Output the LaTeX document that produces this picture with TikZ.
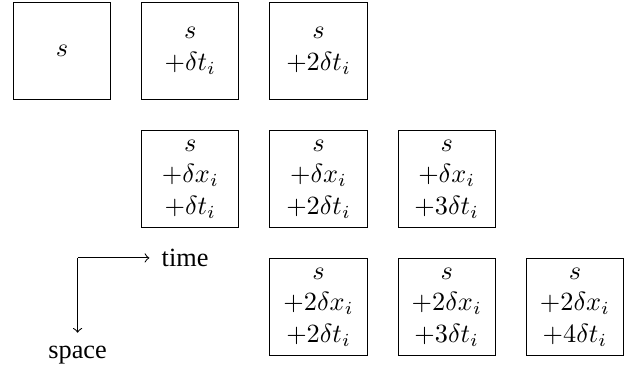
\documentclass[tikz,border=0pt]{standalone}
\usepackage[no-math]{fontspec}
\setmainfont{Liberation Serif}
\usepackage{tikz}
\usetikzlibrary{positioning}

\begin{document}
\begin{tikzpicture}[
  cell/.style={rectangle, draw, align=center, minimum size=1.3cm, inner sep=0pt},
  arr/.style={->}
]
% first row
\node[cell] (c00) {$s$};
\node[cell, right=0.4cm of c00] (c01) {$s$\\$+\delta t_i$};
\node[cell, right=0.4cm of c01] (c02) {$s$\\$+2\delta t_i$};
% second row
\node[cell, below=0.4cm of c01] (c11) {$s$\\$+\delta x_i$\\$+\delta t_i$};
\node[cell, right=0.4cm of c11] (c12) {$s$\\$+\delta x_i$\\$+2\delta t_i$};
\node[cell, right=0.4cm of c12] (c13) {$s$\\$+\delta x_i$\\$+3\delta t_i$};
% third row
\node[cell, below=0.4cm of c12] (c22) {$s$\\$+2\delta x_i$\\$+2\delta t_i$};
\node[cell, right=0.4cm of c22] (c23) {$s$\\$+2\delta x_i$\\$+3\delta t_i$};
\node[cell, right=0.4cm of c23] (c24) {$s$\\$+2\delta x_i$\\$+4\delta t_i$};
% axes
\coordinate[below left=0.4cm and 0.85cm of c11.south west] (corner);
\node[right=0.96cm of corner, anchor=west, inner xsep=4.5pt] (time) {time};
\node[below=1.0cm of corner, anchor=north, inner ysep=5pt] (space) {space};
\draw[arr] (corner) -- (time);
\draw[arr] (corner) -- (space);
\useasboundingbox ([xshift=-0.173cm, yshift=0.02cm]c00.north west) rectangle ([xshift=0.253cm, yshift=-0.12cm]c24.south east);
\end{tikzpicture}
\end{document}
